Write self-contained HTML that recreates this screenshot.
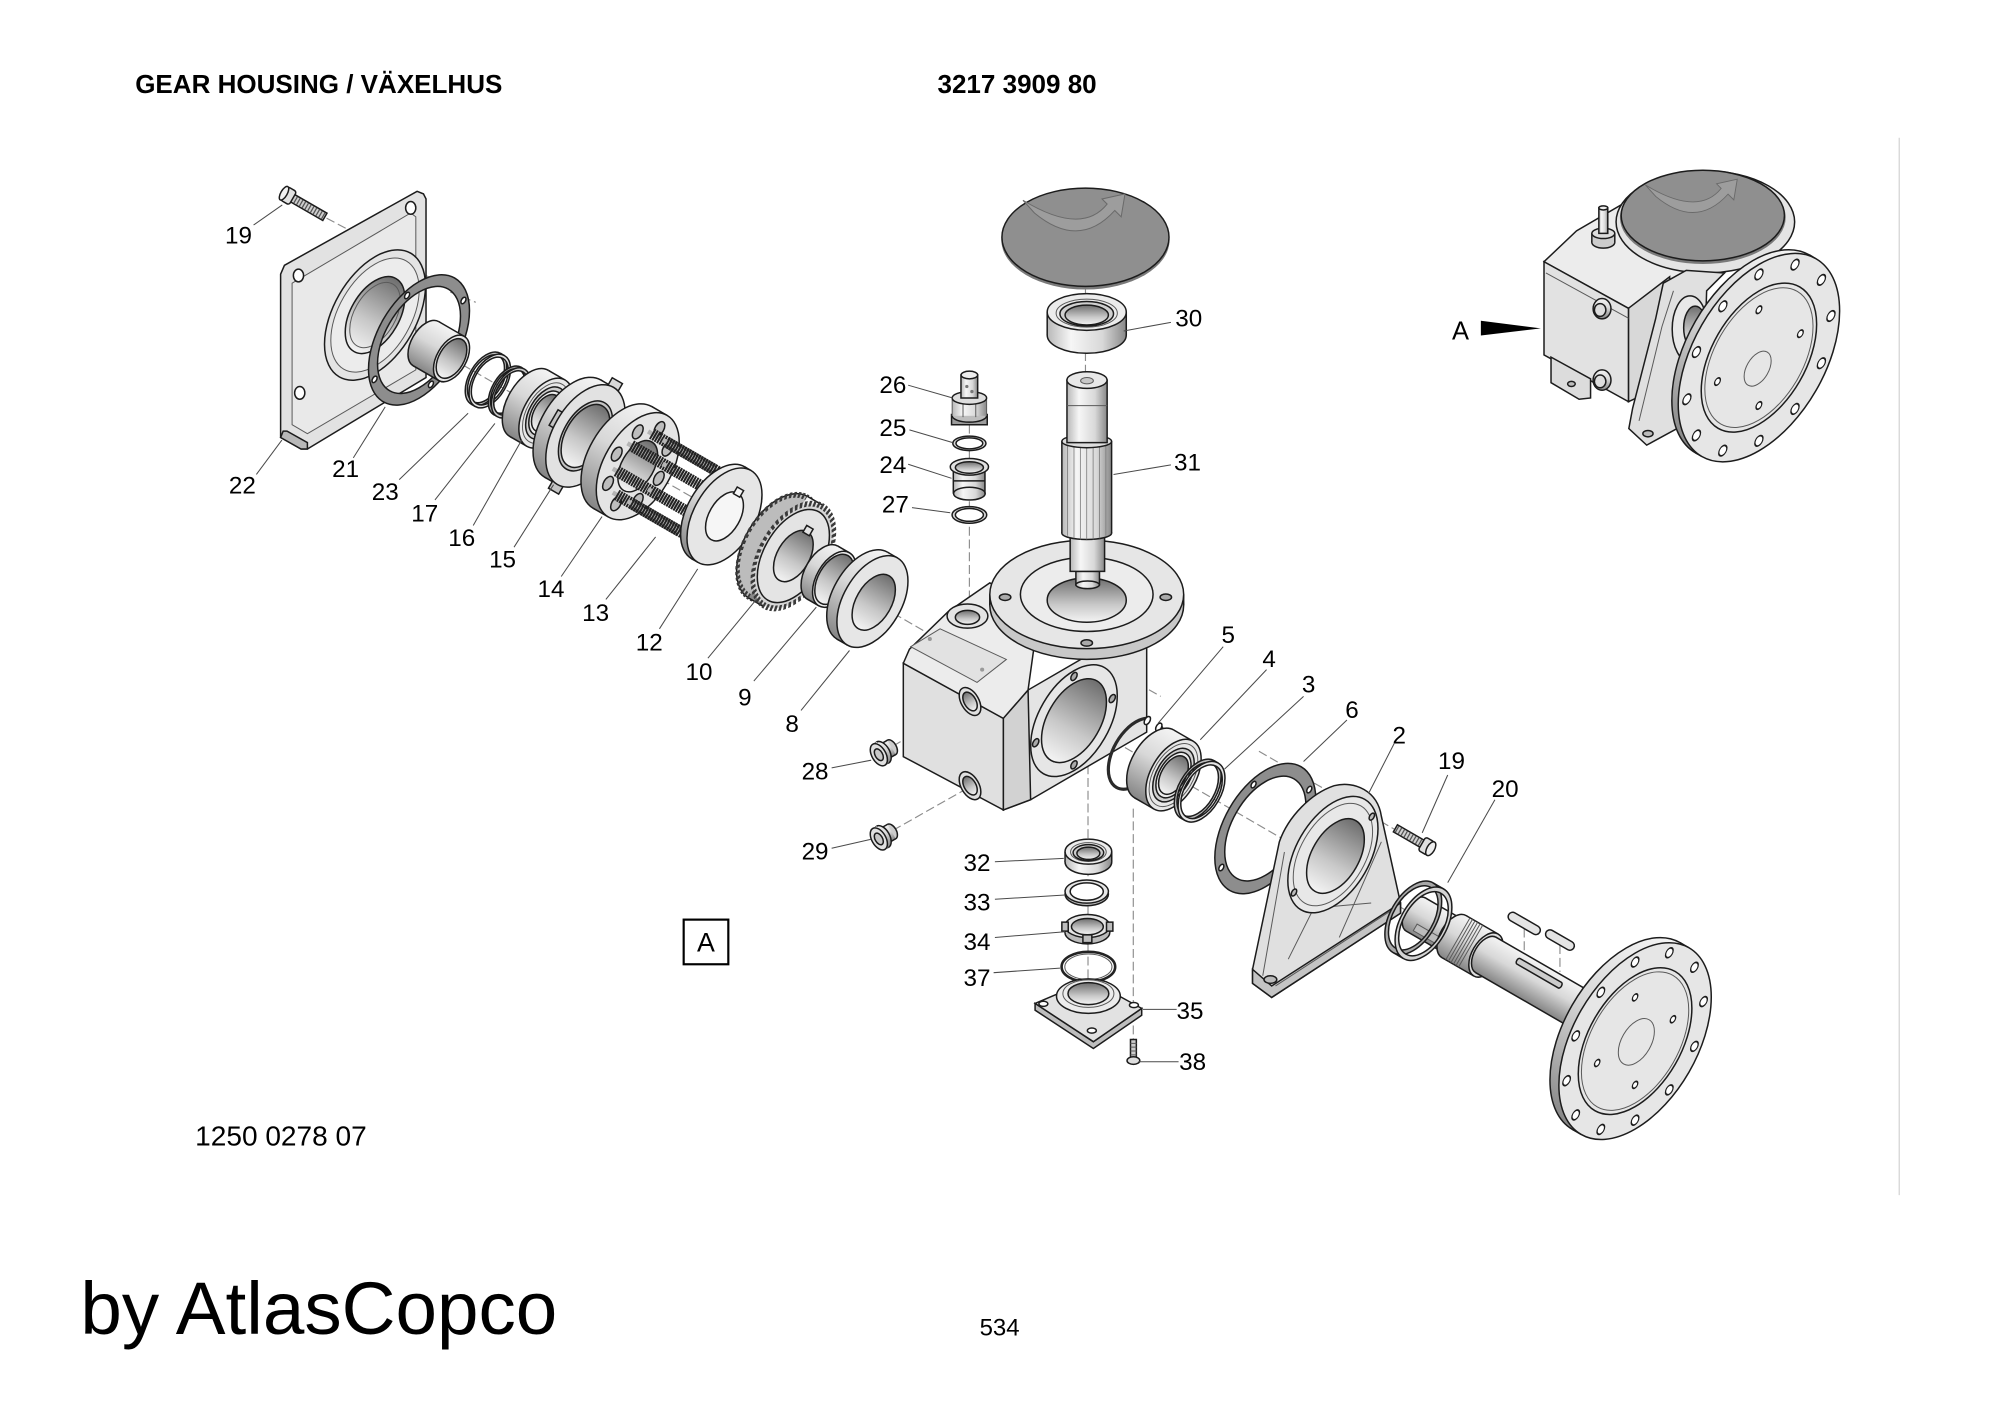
<!DOCTYPE html>
<html><head><meta charset="utf-8"><style>
html,body{margin:0;padding:0;background:#fff;}
svg{display:block}
.s{stroke:#1c1c1c;stroke-width:1.5px;vector-effect:non-scaling-stroke}
.t{stroke:#5a5a5a;stroke-width:1px;vector-effect:non-scaling-stroke}
.l{stroke:#4a4a4a;stroke-width:0.8;fill:none}
text{font-family:"Liberation Sans",Arial,sans-serif;fill:#000}
.n{font-size:19px;text-anchor:middle}
</style></head><body>
<svg width="2000" height="1414" viewBox="0 0 1568 1108.6" preserveAspectRatio="none" xmlns="http://www.w3.org/2000/svg">
<defs>
<linearGradient id="gc" x1="0" y1="0" x2="0" y2="1"><stop offset="0" stop-color="#f4f4f4"/><stop offset="0.45" stop-color="#d8d8d8"/><stop offset="1" stop-color="#858585"/></linearGradient>
<linearGradient id="gb" x1="0" y1="0" x2="0" y2="1"><stop offset="0" stop-color="#6e6e6e"/><stop offset="0.6" stop-color="#c8c8c8"/><stop offset="1" stop-color="#f4f4f4"/></linearGradient>
<linearGradient id="gv" x1="0" y1="0" x2="1" y2="0"><stop offset="0" stop-color="#b8b8b8"/><stop offset="0.3" stop-color="#f6f6f6"/><stop offset="0.7" stop-color="#d8d8d8"/><stop offset="1" stop-color="#888"/></linearGradient>
</defs>
<rect width="1568" height="1108.6" fill="#fff"/>

<!-- header texts -->
<text x="106" y="73" font-size="20.4" font-weight="bold">GEAR HOUSING / VÄXELHUS</text>
<text x="735" y="73" font-size="20.4" font-weight="bold">3217 3909 80</text>
<line x1="1489" y1="108" x2="1489" y2="937" stroke="#d4d4d4" stroke-width="1"/>

<!-- dashed centre lines -->
<g stroke="#8c8c8c" stroke-width="0.9" stroke-dasharray="7 3" fill="none">
<path d="M250 221 L725 495"/>
<path d="M830 556 L1120 724"/>
<path d="M256 171 L273 180"/>
<path d="M313 206 L338 218 M353 229 L373 237"/>
<path d="M851 226 L851 292 M760 333 L760 480 M853 600 L853 790 M888.5 634 L888.5 815"/>
<path d="M700 585 L755 553 M700 651 L755 620"/>
<path d="M866 521 L910 546 M987 589 L1093 650"/>
<path d="M1195 728 L1195 748 M1223 741 L1223 762"/>
</g>

<!-- ===== LEFT ASSEMBLY ===== -->
<g transform="translate(227,154) rotate(30)">
<rect x="2" y="-3.3" width="30" height="6.6" fill="#cfcfcf" class="s"/>
<path d="M5,0H31" stroke="#555" stroke-width="5.5" stroke-dasharray="1 1.5"/>
<rect x="-5" y="-6" width="8" height="12" rx="2" fill="#e2e2e2" class="s"/>
<ellipse cx="-5" cy="0" rx="2.5" ry="6" fill="#f2f2f2" class="s"/>
</g>
<polygon points="220,215 223,208 327,150 332,152 334,156 334,296 241,352 236,352 220,343" fill="#e2e2e2" class="s"/>
<polygon points="220,343 236,352 241,352 241,347 225,338 222,338" fill="#b8b8b8" class="s"/>
<path d="M229,222 L322,167 L326,170 L326,290 L241,340 L229,333 Z" fill="#e9e9e9" class="t"/>
<ellipse cx="234" cy="216" rx="4" ry="5" fill="#fff" class="s"/>
<ellipse cx="322" cy="163" rx="4" ry="5" fill="#fff" class="s"/>
<ellipse cx="235" cy="308" rx="4" ry="5" fill="#fff" class="s"/>
<g transform="translate(294,247) rotate(30) scale(0.577,1)">
<circle r="56" fill="#e4e4e4" class="s"/>
<circle r="49" fill="#ececec" class="t"/>
<circle r="33" fill="url(#gb)" class="s"/>
<circle r="28" fill="none" class="t"/>
</g>
<g transform="translate(328.5,266.5) rotate(30) scale(0.577,1)">
<path fill-rule="evenodd" d="M-56,0a56,56 0 1,0 112,0a56,56 0 1,0 -112,0zM-46,0a46,46 0 1,0 92,0a46,46 0 1,0 -92,0z" fill="#8d8d8d" class="s"/>
<circle cx="25.5" cy="-44.2" r="2.8" fill="#fff" class="s"/>
<circle cx="44.2" cy="25.5" r="2.8" fill="#fff" class="s"/>
<circle cx="-25.5" cy="44.2" r="2.8" fill="#fff" class="s"/>
<circle cx="-44.2" cy="-25.5" r="2.8" fill="#fff" class="s"/>
</g>
<g transform="translate(334,269.5) rotate(30) scale(0.577,1)">
<circle r="20" fill="url(#gc)" class="s"/>
<rect x="0" y="-20" width="40" height="40" fill="url(#gc)"/>
<path d="M0,-20H40M0,20H40" fill="none" class="s"/>
<circle cx="40" r="20" fill="#e6e6e6" class="s"/>
<circle cx="40" r="17" fill="url(#gb)" class="s"/>
</g>
<g transform="translate(381,297) rotate(30) scale(0.577,1)">
<path fill-rule="evenodd" d="M-23,0a23,23 0 1,0 46,0a23,23 0 1,0 -46,0zM-20.5,0a20.5,20.5 0 1,0 41,0a20.5,20.5 0 1,0 -41,0z" fill="#bdbdbd" class="s"/>
<path d="M0,-23H6M0,23H6" class="s"/>
<path fill-rule="evenodd" d="M-17,0a23,23 0 1,0 46,0a23,23 0 1,0 -46,0zM-14.5,0a20.5,20.5 0 1,0 41,0a20.5,20.5 0 1,0 -41,0z" fill="#e2e2e2" class="s"/>
</g>
<g transform="translate(398,306.6) rotate(30) scale(0.577,1)">
<path fill-rule="evenodd" d="M-21.5,0a21.5,21.5 0 1,0 43,0a21.5,21.5 0 1,0 -43,0zM-19,0a19,19 0 1,0 38,0a19,19 0 1,0 -38,0z" fill="#9a9a9a" class="s"/>
<path fill-rule="evenodd" d="M-16.5,0a21.5,21.5 0 1,0 43,0a21.5,21.5 0 1,0 -43,0zM-14,0a19,19 0 1,0 38,0a19,19 0 1,0 -38,0z" fill="#c8c8c8" class="s"/>
</g>
<g transform="translate(415,316.4) rotate(30) scale(0.577,1)">
<circle r="30" fill="url(#gc)" class="s"/>
<rect x="0" y="-30" width="26" height="60" fill="url(#gc)"/>
<path d="M0,-30H26M0,30H26" class="s"/>
<circle cx="26" r="30" fill="#e8e8e8" class="s"/>
<circle cx="26" r="26" fill="none" class="t"/>
<circle cx="26" r="22.5" fill="#cfcfcf" class="s"/>
<circle cx="26" r="19" fill="#eee" class="s"/>
<circle cx="26" r="16" fill="url(#gb)" class="s"/>
</g>
<g transform="translate(449,336) rotate(30) scale(0.577,1)">
<circle r="44" fill="url(#gc)" class="s"/>
<rect x="0" y="-44" width="20" height="88" fill="url(#gc)"/>
<path d="M0,-44H20M0,44H20" class="s"/>
<rect x="12" y="-50" width="16" height="8" fill="#d8d8d8" class="s"/>
<rect x="12" y="42" width="16" height="8" fill="#c4c4c4" class="s"/>
<rect x="-30" y="-7" width="10" height="14" fill="#c4c4c4" class="s"/>
<rect x="60" y="-7" width="10" height="14" fill="#d8d8d8" class="s"/>
<circle cx="20" r="44" fill="#e2e2e2" class="s"/>
<circle cx="20" r="30" fill="#c4c4c4" class="s"/>
<circle cx="20" r="27" fill="url(#gb)" class="s"/>
</g>
<g transform="translate(488,358.6) rotate(30) scale(0.577,1)">
<circle r="46" fill="url(#gc)" class="s"/>
<rect x="0" y="-46" width="24" height="92" fill="url(#gc)"/>
<path d="M0,-46H24M0,46H24" class="s"/>
<circle cx="24" r="46" fill="#e4e4e4" class="s"/>
<circle cx="57" cy="0" r="6" fill="#bdbdbd" class="s"/>
<circle cx="47.3" cy="23.3" r="6" fill="#bdbdbd" class="s"/>
<circle cx="24" cy="34" r="6" fill="#bdbdbd" class="s"/>
<circle cx="0.7" cy="23.3" r="6" fill="#bdbdbd" class="s"/>
<circle cx="-9" cy="0" r="6" fill="#bdbdbd" class="s"/>
<circle cx="0.7" cy="-23.3" r="6" fill="#bdbdbd" class="s"/>
<circle cx="24" cy="-34" r="6" fill="#bdbdbd" class="s"/>
<circle cx="47.3" cy="-23.3" r="6" fill="#bdbdbd" class="s"/>
<circle cx="24" r="22" fill="url(#gb)" class="s"/>
<g fill="none">
<path d="M-3.7,11.5H122.3M-3.7,-11.5H122.3" stroke="#b4b4b4" stroke-width="3.5"/>
<path d="M2.3,11.5H100.3M2.3,-11.5H100.3" stroke="#222" stroke-width="9" stroke-dasharray="2.6 1.1"/>
<path d="M12.5,27.7H138.5M12.5,-27.7H138.5" stroke="#b4b4b4" stroke-width="3.5"/>
<path d="M18.5,27.7H116.5M18.5,-27.7H116.5" stroke="#222" stroke-width="9" stroke-dasharray="2.6 1.1"/>
<path d="M35.5,27.7H161.5M35.5,-27.7H161.5" stroke="#b4b4b4" stroke-width="3.5"/>
<path d="M41.5,27.7H139.5M41.5,-27.7H139.5" stroke="#222" stroke-width="9" stroke-dasharray="2.6 1.1"/>
<path d="M51.7,11.5H177.7M51.7,-11.5H177.7" stroke="#b4b4b4" stroke-width="3.5"/>
<path d="M57.7,11.5H155.7M57.7,-11.5H155.7" stroke="#222" stroke-width="9" stroke-dasharray="2.6 1.1"/>
</g>
</g>
<g transform="translate(563,402) rotate(30) scale(0.577,1)">
<circle r="41.6" fill="url(#gc)" class="s"/>
<rect x="0" y="-41.6" width="10" height="83.2" fill="url(#gc)"/>
<path d="M0,-41.6H10M0,41.6H10" class="s"/>
<circle cx="10" r="41.6" fill="#e6e6e6" class="s"/>
<circle cx="10" r="21" fill="#f6f6f6" class="s"/>
<rect x="5" y="-25" width="10" height="6" fill="#f6f6f6" class="s"/>
</g>
<g transform="translate(610,429) rotate(30) scale(0.577,1)">
<circle r="46" fill="#bcbcbc" class="s"/>
<circle r="45" fill="none" stroke="#3a3a3a" stroke-width="5" stroke-dasharray="3 2.4"/>
<rect x="0" y="-46" width="24" height="92" fill="url(#gc)"/>
<path d="M0,-46H24M0,46H24" class="s"/>
<circle cx="24" r="45" fill="#d6d6d6" stroke="#3a3a3a" stroke-width="5" stroke-dasharray="3 2.4"/>
<circle cx="24" r="40" fill="#e4e4e4" class="s"/>
<circle cx="24" r="22" fill="url(#gb)" class="s"/>
<rect x="19" y="-26" width="10" height="6" fill="#e4e4e4" class="s"/>
</g>
<g transform="translate(645,449) rotate(30) scale(0.577,1)">
<circle r="24" fill="url(#gc)" class="s"/>
<rect x="0" y="-24" width="18" height="48" fill="url(#gc)"/>
<path d="M0,-24H18M0,24H18" class="s"/>
<circle cx="18" r="24" fill="#eee" class="s"/>
<circle cx="18" r="21.5" fill="url(#gb)" class="s"/>
</g>
<g transform="translate(676,467) rotate(30) scale(0.577,1)">
<circle r="39.4" fill="url(#gc)" class="s"/>
<rect x="0" y="-39.4" width="16" height="78.8" fill="url(#gc)"/>
<path d="M0,-39.4H16M0,39.4H16" class="s"/>
<circle cx="16" r="39.4" fill="#e6e6e6" class="s"/>
<circle cx="18" r="24" fill="url(#gb)" class="s"/>
</g>

<!-- ===== HOUSING ===== -->
<polygon points="786.6,563 806,541 899,487 899,574 808,627 786.6,635" fill="#e4e4e4" class="s"/>
<polygon points="786.6,563 806,541 808,627 786.6,635" fill="#d2d2d2" class="s"/>
<polygon points="708.2,520 786.6,563.2 786.6,635 708.2,593.2" fill="#e0e0e0" class="s"/>
<polygon points="708.2,520 713,509 743.5,479.4 776,457 815,476 806,541 786.6,563.2" fill="#ececec" class="s"/>
<polygon points="714,507 737,493 789,517 766,535" fill="#e2e2e2" class="t"/>
<circle cx="729" cy="501" r="1.6" fill="#999"/>
<circle cx="770" cy="525" r="1.6" fill="#999"/>
<ellipse cx="758.5" cy="483" rx="16" ry="9.5" fill="#e4e4e4" class="s"/>
<ellipse cx="758.5" cy="484" rx="9.5" ry="5.5" fill="url(#gb)" class="s"/>
<g transform="translate(760.5,550) rotate(-30) scale(0.577,1)">
<circle r="12" fill="#e0e0e0" class="s"/><circle r="8" fill="url(#gb)" class="s"/>
</g>
<g transform="translate(760.5,616) rotate(-30) scale(0.577,1)">
<circle r="12" fill="#e0e0e0" class="s"/><circle r="8" fill="url(#gb)" class="s"/>
</g>
<g transform="translate(842,565) rotate(30) scale(0.577,1)">
<circle r="48" fill="#e6e6e6" class="s"/>
<circle r="36" fill="url(#gb)" class="s"/>
<circle cx="30" cy="30" r="3.5" fill="#aaa" class="s"/>
<circle cx="-30" cy="30" r="3.5" fill="#aaa" class="s"/>
<circle cx="-30" cy="-30" r="3.5" fill="#aaa" class="s"/>
<circle cx="30" cy="-30" r="3.5" fill="#aaa" class="s"/>
</g>
<g transform="translate(852,466) scale(1,0.56)">
<circle cy="15" r="76" fill="#c8c8c8" class="s"/>
<rect x="-76" y="0" width="152" height="15" fill="#c8c8c8"/>
<path d="M-76,0V15M76,0V15" class="s"/>
<circle r="76" fill="#e6e6e6" class="s"/>
<circle r="52" fill="#ececec" class="s"/>
<circle cy="8" r="31" fill="url(#gb)" class="s"/>
<circle cx="-64" cy="4" r="4.5" fill="#aaa" class="s"/>
<circle cx="62" cy="4" r="4.5" fill="#aaa" class="s"/>
<circle cx="0" cy="68" r="4.5" fill="#aaa" class="s"/>
<circle cx="0" cy="-66" r="4.5" fill="#aaa" class="s"/>
</g>
<rect x="843.5" y="448" width="18.5" height="10.5" fill="url(#gv)" class="s"/>
<ellipse cx="852.7" cy="458.5" rx="9.25" ry="3" fill="url(#gv)" class="s"/>
<rect x="839" y="416" width="27" height="32" fill="url(#gv)" class="s"/>
<ellipse cx="852" cy="418" rx="19.5" ry="5" fill="url(#gv)" class="s"/>
<rect x="832.5" y="346" width="39" height="72" fill="url(#gv)"/>
<path d="M832.5,346V418M871.5,346V418" class="s"/>
<path d="M837,349V420M842,350V422M847,351V423M852,351V423M857,351V423M862,350V422M867,349V420" stroke="#777" stroke-width="0.6"/>
<ellipse cx="852" cy="346" rx="19.5" ry="5" fill="#dcdcdc" class="s"/>
<rect x="836.5" y="298" width="31.5" height="49" fill="url(#gv)" class="s"/>
<path d="M836.5,318H868" class="t"/>
<ellipse cx="852.2" cy="298" rx="15.75" ry="6.5" fill="#e8e8e8" class="s"/>
<ellipse cx="852.2" cy="298.5" rx="5" ry="2.5" fill="#c8c8c8" class="t"/>
<ellipse cx="852" cy="262.6" rx="31" ry="14.4" fill="url(#gv)" class="s"/>
<rect x="821" y="244.6" width="62" height="18" fill="url(#gv)"/>
<path d="M821,244.6V262.6M883,244.6V262.6" class="s"/>
<ellipse cx="852" cy="244.6" rx="31" ry="14.4" fill="#ececec" class="s"/>
<ellipse cx="852" cy="245.5" rx="24" ry="11" fill="none" class="t"/>
<ellipse cx="852" cy="246" rx="21" ry="9.6" fill="#d0d0d0" class="s"/>
<ellipse cx="852" cy="247" rx="17" ry="7.8" fill="url(#gb)" class="s"/>
<!-- dish -->
<ellipse cx="851" cy="188" rx="66" ry="39" fill="#7a7a7a"/>
<ellipse cx="851" cy="186" rx="65.5" ry="38.5" fill="#8f8f8f" class="s"/>
<path d="M802,157 Q848,185 868,160 L864,156 L882,152 L879,170 L874,165 Q846,196 811,167 Z" fill="#9d9d9d" stroke="#6a6a6a" stroke-width="0.8"/>

<!-- parts 26 25 24 27 -->
<rect x="746" y="325" width="28" height="8" fill="#9c9c9c" class="s"/>
<ellipse cx="760" cy="326" rx="13.5" ry="5" fill="#bdbdbd" class="s"/>
<rect x="746.5" y="312" width="27" height="14" fill="url(#gv)"/>
<path d="M746.5,312V326M773.5,312V326M755,314V327M765,314V327" class="t"/>
<ellipse cx="760" cy="312" rx="13.5" ry="5" fill="#dedede" class="s"/>
<rect x="753.4" y="294" width="13.1" height="18" fill="url(#gv)" class="s"/>
<ellipse cx="760" cy="294" rx="6.5" ry="3" fill="#eee" class="s"/>
<circle cx="758" cy="303" r="1.3" fill="#777"/><circle cx="762" cy="307" r="1.3" fill="#777"/>
<ellipse cx="760" cy="347.6" rx="13" ry="5.7" fill="#d8d8d8" class="s"/>
<ellipse cx="760" cy="347.6" rx="10.5" ry="4.3" fill="#fff" class="s"/>
<rect x="747.4" y="366" width="24.8" height="21" fill="url(#gv)"/>
<ellipse cx="760" cy="387" rx="12.4" ry="5" fill="url(#gv)" class="s"/>
<path d="M747.4,366V387M772.2,366V387M748,377H772" class="s"/>
<ellipse cx="760" cy="366" rx="15" ry="6.5" fill="#e2e2e2" class="s"/>
<ellipse cx="760" cy="366.5" rx="11" ry="4.5" fill="url(#gb)" class="s"/>
<ellipse cx="760" cy="403.7" rx="13.6" ry="6.5" fill="#d8d8d8" class="s"/>
<ellipse cx="760" cy="403.7" rx="11" ry="5" fill="#fff" class="s"/>

<!-- plugs 28 29 -->
<g transform="translate(692,590) rotate(-30) scale(0.577,1)">
<circle cx="14" r="6.5" fill="#ccc" class="s"/>
<rect x="0" y="-6.5" width="14" height="13" fill="url(#gc)"/>
<path d="M0,-6.5H14M0,6.5H14" class="s"/>
<circle r="9.5" fill="url(#gc)" class="s"/>
<rect x="-6" y="-9.5" width="6" height="19" fill="url(#gc)"/>
<circle cx="-6" r="9.5" fill="#e0e0e0" class="s"/>
<circle cx="-6" r="5" fill="#c8c8c8" class="s"/>
</g>
<g transform="translate(692,656) rotate(-30) scale(0.577,1)">
<circle cx="14" r="6.5" fill="#ccc" class="s"/>
<rect x="0" y="-6.5" width="14" height="13" fill="url(#gc)"/>
<path d="M0,-6.5H14M0,6.5H14" class="s"/>
<circle r="9.5" fill="url(#gc)" class="s"/>
<rect x="-6" y="-9.5" width="6" height="19" fill="url(#gc)"/>
<circle cx="-6" r="9.5" fill="#e0e0e0" class="s"/>
<circle cx="-6" r="5" fill="#c8c8c8" class="s"/>
</g>

<!-- ===== RIGHT ASSEMBLY ===== -->
<g transform="translate(890.5,590.9) rotate(30) scale(0.577,1)">
<path d="M6.34,-29.83 A30.5,30.5 0 1,1 -6.34,-29.83" fill="none" stroke="#2a2a2a" stroke-width="3.2" vector-effect="non-scaling-stroke"/>
<circle cx="9" cy="-27" r="3.5" fill="#fff" class="s"/>
<circle cx="-9" cy="-27" r="3.5" fill="#fff" class="s"/>
</g>
<g transform="translate(905,599) rotate(30) scale(0.577,1)">
<circle r="30.7" fill="url(#gc)" class="s"/>
<rect x="0" y="-30.7" width="30" height="61.4" fill="url(#gc)"/>
<path d="M0,-30.7H30M0,30.7H30" class="s"/>
<circle cx="30" r="30.7" fill="#e8e8e8" class="s"/>
<circle cx="30" r="27" fill="none" class="t"/>
<circle cx="30" r="23" fill="#d0d0d0" class="s"/>
<circle cx="30" r="19.5" fill="#ececec" class="s"/>
<circle cx="30" r="16.5" fill="url(#gb)" class="s"/>
</g>
<g transform="translate(939,619) rotate(30) scale(0.577,1)">
<path fill-rule="evenodd" d="M-26,0a26,26 0 1,0 52,0a26,26 0 1,0 -52,0zM-23,0a23,23 0 1,0 46,0a23,23 0 1,0 -46,0z" fill="#bdbdbd" class="s"/>
<path d="M0,-26H6M0,26H6" class="s"/>
<path fill-rule="evenodd" d="M-20,0a26,26 0 1,0 52,0a26,26 0 1,0 -52,0zM-17,0a23,23 0 1,0 46,0a23,23 0 1,0 -46,0z" fill="#e4e4e4" class="s"/>
</g>
<g transform="translate(992,649.6) rotate(30) scale(0.577,1)">
<path fill-rule="evenodd" d="M-56,0a56,56 0 1,0 112,0a56,56 0 1,0 -112,0zM-45,0a45,45 0 1,0 90,0a45,45 0 1,0 -90,0z" fill="#8d8d8d" class="s"/>
<circle cx="25.25" cy="-43.7" r="2.8" fill="#fff" class="s"/>
<circle cx="43.7" cy="25.25" r="2.8" fill="#fff" class="s"/>
<circle cx="-25.25" cy="43.7" r="2.8" fill="#fff" class="s"/>
<circle cx="-43.7" cy="-25.25" r="2.8" fill="#fff" class="s"/>
</g>
<path d="M982,771 L997,782 L1098,716 L1098,708 L1083,640 C1080,620 1062,612 1046,616 C1028,622 1010,640 1003,660 L982,760 Z" fill="#e0e0e0" class="s"/>
<path d="M982,760 L982,771 L997,782 L1098,716 L1098,708 L997,773 Z" fill="#c4c4c4" class="s"/>
<path d="M990,765 L1007,668 M1000,773 L1092,713 M1050,735 L1083,660 M1010,752 L1030,712 L1075,708" fill="none" class="t"/>
<ellipse cx="996" cy="768" rx="5" ry="3" fill="#bbb" class="s"/>
<g transform="translate(1045,670) rotate(30) scale(0.577,1)">
<circle r="50" fill="#e8e8e8" class="s"/>
<circle r="44" fill="none" class="t"/>
<circle cx="4" r="32" fill="url(#gb)" class="s"/>
<circle cx="20" cy="-41" r="3" fill="#bbb" class="s"/>
<circle cx="-20" cy="41" r="3" fill="#bbb" class="s"/>
</g>
<g transform="translate(1094,649.4) rotate(30)">
<rect x="0" y="-3.2" width="26" height="6.4" fill="#d0d0d0" class="s"/>
<path d="M1,0H23" stroke="#555" stroke-width="5.5" stroke-dasharray="1 1.6"/>
<rect x="24" y="-6" width="8" height="12" rx="2" fill="#e0e0e0" class="s"/>
<ellipse cx="32" cy="0" rx="3" ry="6" fill="#eee" class="s"/>
</g>
<g transform="translate(1110,717) rotate(30) scale(0.577,1)">
<circle r="15" fill="url(#gc)" class="s"/>
<rect x="0" y="-15" width="60" height="30" fill="url(#gc)"/>
<path d="M0,-15H60M0,15H60" class="s"/>
<rect x="8" y="6" width="34" height="6" fill="#bbb" class="t"/>
<circle cx="60" r="19" fill="url(#gc)" class="s"/>
<rect x="60" y="-19" width="50" height="38" fill="url(#gc)"/>
<path d="M60,-19H110M60,19H110" class="s"/>
<path d="M66,-19V19M70,-19V19M74,-19V19M78,-19V19M82,-19V19M86,-19V19" class="t" fill="none"/>
<circle cx="110" r="19" fill="#dedede" class="s"/>
<circle cx="110" r="16" fill="url(#gc)" class="s"/>
<rect x="110" y="-16" width="195" height="32" fill="url(#gc)"/>
<path d="M110,-16H305M110,16H305" class="s"/>
<rect x="150" y="-11" width="70" height="5" rx="2.5" fill="#ccc" class="s"/>
<path d="M300,-16 L330,-26 L330,26 L300,16 Z" fill="url(#gc)" class="s"/>
<circle cx="330" r="84.5" fill="url(#gc)" class="s"/>
<rect x="330" y="-84.5" width="14" height="169" fill="url(#gc)"/>
<path d="M330,-84.5H344M330,84.5H344" class="s"/>
<circle cx="344" r="84.5" fill="#e6e6e6" class="s"/>
<circle cx="344" r="63" fill="none" class="s"/>
<circle cx="344" r="59.5" fill="none" class="t"/>
<circle cx="346" r="20" fill="none" class="t"/>
<g fill="#fff" class="s">
<circle cx="417.4" cy="19.7" r="4.2"/><circle cx="397.7" cy="53.7" r="4.2"/><circle cx="363.7" cy="73.4" r="4.2"/>
<circle cx="324.3" cy="73.4" r="4.2"/><circle cx="290.3" cy="53.7" r="4.2"/><circle cx="270.6" cy="19.7" r="4.2"/>
<circle cx="270.6" cy="-19.7" r="4.2"/><circle cx="290.3" cy="-53.7" r="4.2"/><circle cx="324.3" cy="-73.4" r="4.2"/>
<circle cx="363.7" cy="-73.4" r="4.2"/><circle cx="397.7" cy="-53.7" r="4.2"/><circle cx="417.4" cy="-19.7" r="4.2"/>
<circle cx="373.7" cy="29.7" r="3"/><circle cx="314.3" cy="29.7" r="3"/><circle cx="314.3" cy="-29.7" r="3"/><circle cx="373.7" cy="-29.7" r="3"/>
</g>
</g>
<g transform="translate(1108,719.6) rotate(30) scale(0.577,1)">
<path fill-rule="evenodd" d="M-31.5,0a31.5,31.5 0 1,0 63,0a31.5,31.5 0 1,0 -63,0zM-27.5,0a27.5,27.5 0 1,0 55,0a27.5,27.5 0 1,0 -55,0z" fill="#a8a8a8" class="s"/>
<path d="M0,-31.5H16M0,31.5H16" class="s"/>
<path fill-rule="evenodd" d="M-15.5,0a31.5,31.5 0 1,0 63,0a31.5,31.5 0 1,0 -63,0zM-11.5,0a27.5,27.5 0 1,0 55,0a27.5,27.5 0 1,0 -55,0z" fill="#d4d4d4" class="s"/>
</g>
<rect x="1181" y="720.5" width="28" height="7" rx="3.5" transform="rotate(30 1195 724)" fill="#e4e4e4" class="s"/>
<rect x="1210.5" y="733.5" width="25" height="7" rx="3.5" transform="rotate(30 1223 737)" fill="#e4e4e4" class="s"/>

<!-- ===== BOTTOM PARTS ===== -->
<ellipse cx="853.3" cy="675.7" rx="18.3" ry="9.8" fill="url(#gv)" class="s"/>
<rect x="835" y="667.7" width="36.6" height="8" fill="url(#gv)"/>
<path d="M835,667.7V675.7M871.6,667.7V675.7" class="s"/>
<ellipse cx="853.3" cy="667.7" rx="18.3" ry="9.8" fill="#ececec" class="s"/>
<ellipse cx="853.3" cy="668" rx="14" ry="7.4" fill="none" class="t"/>
<ellipse cx="853.3" cy="668.5" rx="12" ry="6.3" fill="#ccc" class="s"/>
<ellipse cx="853.3" cy="669" rx="9" ry="4.8" fill="url(#gb)" class="s"/>
<ellipse cx="852" cy="701" rx="17" ry="9.1" fill="#bbb" class="s"/>
<ellipse cx="852" cy="699" rx="17" ry="9.1" fill="#e6e6e6" class="s"/>
<ellipse cx="852" cy="699" rx="13" ry="6.8" fill="#fff" class="s"/>
<ellipse cx="852.5" cy="731" rx="17.6" ry="9" fill="#bbb" class="s"/>
<rect x="834.9" y="726" width="35.2" height="5" fill="#cfcfcf"/>
<path d="M834.9,726V731M870.1,726V731" class="s"/>
<ellipse cx="852.5" cy="726" rx="17.6" ry="9" fill="#e4e4e4" class="s"/>
<ellipse cx="852.5" cy="726.5" rx="12.5" ry="6.4" fill="url(#gb)" class="s"/>
<rect x="832.5" y="723" width="5" height="7" fill="#bdbdbd" class="s"/>
<rect x="867.5" y="723" width="5" height="7" fill="#bdbdbd" class="s"/>
<rect x="849" y="733" width="7" height="6" fill="#bdbdbd" class="s"/>
<ellipse cx="853.3" cy="758" rx="21" ry="11.8" fill="none" stroke="#222" stroke-width="2.6" vector-effect="non-scaling-stroke"/>
<ellipse cx="853.3" cy="758" rx="18.5" ry="10" fill="none" class="t"/>
<polygon points="811.5,786.7 857.2,816.7 895.1,790.6 895.1,796 857.2,822 811.5,792" fill="#bdbdbd" class="s"/>
<polygon points="811.5,786.7 854.6,768.4 895.1,790.6 857.2,816.7" fill="#e2e2e2" class="s"/>
<ellipse cx="853.3" cy="781" rx="25" ry="13.5" fill="#ececec" class="s"/>
<ellipse cx="853.3" cy="779" rx="20" ry="10.8" fill="none" class="t"/>
<ellipse cx="853.3" cy="779" rx="16" ry="8.6" fill="url(#gb)" class="s"/>
<ellipse cx="818" cy="787" rx="3.5" ry="2" fill="#fff" class="s"/>
<ellipse cx="856" cy="808" rx="3.5" ry="2" fill="#fff" class="s"/>
<ellipse cx="889" cy="788" rx="3.5" ry="2" fill="#fff" class="s"/>
<rect x="886.3" y="815" width="4.6" height="15" fill="#ccc" class="s"/>
<path d="M886.3,818H891M886.3,821H891M886.3,824H891M886.3,827H891" class="t"/>
<ellipse cx="888.6" cy="831.5" rx="5" ry="3" fill="#ddd" class="s"/>

<!-- ===== INSET ===== -->
<polygon points="1210.5,205.2 1236,181 1272,160 1350,200 1300,228 1276.7,241.7" fill="#ececec" class="s"/>
<polygon points="1276.7,241.7 1309,217 1309,300 1276.7,314.9" fill="#d8d8d8" class="s"/>
<polygon points="1210.5,205.2 1276.7,241.7 1276.7,314.9 1210.5,278.3" fill="#e2e2e2" class="s"/>
<path d="M1212,214 L1276.7,249.5" class="t"/>
<polygon points="1216,280 1247,297 1247,312 1238,313 1216,300" fill="#dcdcdc" class="s"/>
<ellipse cx="1232" cy="301" rx="3" ry="2" fill="#bbb" class="s"/>
<ellipse cx="1256" cy="242" rx="7" ry="8" fill="url(#gc)" class="s"/>
<ellipse cx="1254.5" cy="243" rx="4.5" ry="5" fill="#ddd" class="s"/>
<ellipse cx="1256" cy="298" rx="7" ry="8" fill="url(#gc)" class="s"/>
<ellipse cx="1254.5" cy="299" rx="4.5" ry="5" fill="#ddd" class="s"/>
<ellipse cx="1337" cy="174" rx="70" ry="40" fill="#e4e4e4" class="s"/>
<ellipse cx="1335" cy="170.5" rx="65" ry="36.5" fill="#7a7a7a"/>
<ellipse cx="1335" cy="169" rx="64" ry="35.5" fill="#8f8f8f" class="s"/>
<path transform="translate(1290,145) scale(0.9) translate(-802,-157)" d="M802,157 Q848,185 868,160 L864,156 L882,152 L879,170 L874,165 Q846,196 811,167 Z" fill="#9d9d9d" stroke="#6a6a6a" stroke-width="0.8"/>
<ellipse cx="1257" cy="190" rx="9" ry="4.5" fill="#ccc" class="s"/>
<rect x="1248" y="183" width="18" height="7" fill="#ccc"/>
<path d="M1248,183V190M1266,183V190" class="s"/>
<ellipse cx="1257" cy="183" rx="9" ry="4" fill="#ddd" class="s"/>
<rect x="1253.5" y="163" width="7" height="20" fill="url(#gv)" class="s"/>
<ellipse cx="1257" cy="163" rx="3.5" ry="1.6" fill="#eee" class="s"/>
<polygon points="1277,336 1291,349 1335,325 1338,228 1352,214 1322,212 1304,222 1298,250 1280,320" fill="#e0e0e0" class="s"/>
<path d="M1285,330 L1303,256 L1312,228" class="t" fill="none"/>
<ellipse cx="1292" cy="340" rx="4" ry="2.5" fill="#bbb" class="s"/>
<ellipse cx="1325" cy="258" rx="14" ry="26" fill="#e8e8e8" class="s"/>
<ellipse cx="1329" cy="257" rx="9" ry="17" fill="url(#gb)" class="s"/>
<g transform="translate(1374,277.5) rotate(30) scale(0.577,1)">
<circle r="89.5" fill="url(#gc)" class="s"/>
<rect x="0" y="-89.5" width="10" height="179" fill="url(#gc)"/>
<path d="M0,-89.5H10M0,89.5H10" class="s"/>
<circle cx="10" r="89.5" fill="#e6e6e6" class="s"/>
<circle cx="10" r="64" fill="none" class="s"/>
<circle cx="10" r="60" fill="none" class="t"/>
<circle cx="16" cy="8" r="15" fill="none" class="t"/>
<g fill="#fff" class="s">
<circle cx="87.3" cy="20.7" r="4.5"/><circle cx="66.5" cy="56.5" r="4.5"/><circle cx="30.7" cy="77.3" r="4.5"/>
<circle cx="-10.7" cy="77.3" r="4.5"/><circle cx="-46.5" cy="56.5" r="4.5"/><circle cx="-67.3" cy="20.7" r="4.5"/>
<circle cx="-67.3" cy="-20.7" r="4.5"/><circle cx="-46.5" cy="-56.5" r="4.5"/><circle cx="-10.7" cy="-77.3" r="4.5"/>
<circle cx="30.7" cy="-77.3" r="4.5"/><circle cx="66.5" cy="-56.5" r="4.5"/><circle cx="87.3" cy="-20.7" r="4.5"/>
<circle cx="42.5" cy="32.5" r="3.2"/><circle cx="-22.5" cy="32.5" r="3.2"/><circle cx="-22.5" cy="-32.5" r="3.2"/><circle cx="42.5" cy="-32.5" r="3.2"/>
</g>
</g>
<text x="1145" y="266" font-size="20" text-anchor="middle">A</text>
<polygon points="1161,251.5 1208,257.5 1161,263" fill="#000"/>

<rect x="536" y="721" width="35" height="35" fill="none" stroke="#000" stroke-width="1.7"/>
<text x="553.5" y="746" font-size="21" text-anchor="middle">A</text>

<!-- ===== LEADERS ===== -->
<g class="l">
<path d="M198.8,176.4L221.3,160.7"/>
<path d="M201,372L221,345"/>
<path d="M277,359L302,319"/>
<path d="M313,376L367,324"/>
<path d="M341,392L388,332"/>
<path d="M371,412L409,345"/>
<path d="M403,429L434,380"/>
<path d="M440,452L472,405"/>
<path d="M475,470L514,421"/>
<path d="M517,493L547,446"/>
<path d="M555,516L593,470"/>
<path d="M591,534L640,476"/>
<path d="M628,557L666,510"/>
<path d="M712,302L747,312"/>
<path d="M713,337L747,347"/>
<path d="M712,364L746,375"/>
<path d="M715,398L745,402"/>
<path d="M881,259.5L918,252.7"/>
<path d="M873,372L918,364.5"/>
<path d="M959,507L908,567"/>
<path d="M993,525L941,580"/>
<path d="M1022,546L960,603"/>
<path d="M1056,564.5L1022,597"/>
<path d="M1093,583L1073,622"/>
<path d="M1135,607.6L1115,653"/>
<path d="M1172,627L1135,692"/>
<path d="M652,602L683,596"/>
<path d="M652,665L683,658"/>
<path d="M780,675.6L834,673"/>
<path d="M780,705L835,701.7"/>
<path d="M780,735L835,730.5"/>
<path d="M779,762.6L831,759"/>
<path d="M896,791.4L922.5,791.4"/>
<path d="M892.5,832.4L924,832.4"/>
</g>

<!-- ===== LABELS ===== -->
<g class="n">
<text class="n" x="187" y="191">19</text>
<text class="n" x="190" y="387">22</text>
<text class="n" x="271" y="374">21</text>
<text class="n" x="302" y="392">23</text>
<text class="n" x="333" y="409">17</text>
<text class="n" x="362" y="428">16</text>
<text class="n" x="394" y="445">15</text>
<text class="n" x="432" y="468">14</text>
<text class="n" x="467" y="487">13</text>
<text class="n" x="509" y="510">12</text>
<text class="n" x="548" y="533">10</text>
<text class="n" x="584" y="553">9</text>
<text class="n" x="621" y="574">8</text>
<text class="n" x="700" y="308">26</text>
<text class="n" x="700" y="342">25</text>
<text class="n" x="700" y="371">24</text>
<text class="n" x="702" y="402">27</text>
<text class="n" x="932" y="256">30</text>
<text class="n" x="931" y="369">31</text>
<text class="n" x="963" y="504">5</text>
<text class="n" x="995" y="523">4</text>
<text class="n" x="1026" y="543">3</text>
<text class="n" x="1060" y="563">6</text>
<text class="n" x="1097" y="583">2</text>
<text class="n" x="1138" y="603">19</text>
<text class="n" x="1180" y="625">20</text>
<text class="n" x="639" y="611">28</text>
<text class="n" x="639" y="674">29</text>
<text class="n" x="766" y="683">32</text>
<text class="n" x="766" y="714">33</text>
<text class="n" x="766" y="745">34</text>
<text class="n" x="766" y="773">37</text>
<text class="n" x="933" y="799">35</text>
<text class="n" x="935" y="839">38</text>
</g>

<text x="153" y="898" font-size="22">1250 0278 07</text>
<text x="63" y="1046" font-size="58.5">by AtlasCopco</text>
<text x="768" y="1047" font-size="18.8">534</text>
</svg>
</body></html>
